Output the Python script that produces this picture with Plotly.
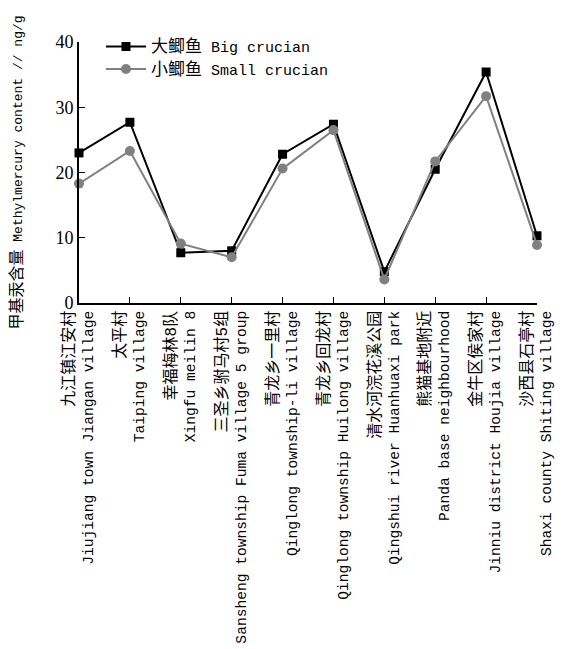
import plotly.graph_objects as go

sites_cn = ["九江镇江安村", "太平村", "幸福梅林8队", "三圣乡驸马村5组", "青龙乡一里村",
            "青龙乡回龙村", "清水河浣花溪公园", "熊猫基地附近", "金牛区侯家村", "沙西县石亭村"]
sites_en = ["Jiujiang town Jiangan village", "Taiping village", "Xingfu meilin 8",
            "Sansheng township Fuma village 5 group", "Qinglong township-li village",
            "Qinglong township Huilong village", "Qingshui river Huanhuaxi park",
            "Panda base neighbourhood", "Jinniu district Houjia village",
            "Shaxi county Shiting village"]
big_crucian = [23.0, 27.7, 7.7, 8.0, 22.8, 27.4, 4.8, 20.5, 35.4, 10.3]
small_crucian = [18.3, 23.3, 9.1, 7.0, 20.6, 26.5, 3.6, 21.7, 31.7, 8.9]
y_ticks = [0, 10, 20, 30, 40]

MONO = "Liberation Mono, Noto Sans CJK SC"

def cn(s, size=15):
    return f"<span style='font-size:{size}px;fill:#000000'>{s}</span>"

x = list(range(len(sites_cn)))
ticktext = [f"{cn(c, 16)}<br>{e}" for c, e in zip(sites_cn, sites_en)]

fig = go.Figure()
fig.add_trace(go.Scatter(
    x=x, y=big_crucian, mode="lines+markers",
    name=cn("大鲫鱼", 17) + " Big crucian",
    line=dict(color="#000000", width=2),
    marker=dict(symbol="square", size=9, color="#000000"),
    cliponaxis=False,
))
fig.add_trace(go.Scatter(
    x=x, y=small_crucian, mode="lines+markers",
    name=cn("小鲫鱼", 17) + " Small crucian",
    line=dict(color="#808080", width=2),
    marker=dict(symbol="circle", size=10, color="#808080"),
    cliponaxis=False,
))

fig.update_layout(
    width=560, height=641,
    margin=dict(l=71, r=31, t=34, b=346),
    paper_bgcolor="white", plot_bgcolor="white",
    font=dict(family=MONO, size=14, color="black"),
    showlegend=True,
    legend=dict(x=0.048, y=1.045, xanchor="left", yanchor="top",
                bgcolor="rgba(0,0,0,0)", font=dict(family=MONO, size=15, color="black"),
                tracegroupgap=0, itemwidth=40),
    xaxis=dict(
        range=[0, 9], tickmode="array", tickvals=x, ticktext=ticktext,
        tickangle=-90, ticks="inside", ticklen=6, tickcolor="black",
        showline=True, linecolor="black", linewidth=2, showgrid=False,
        zeroline=False, tickfont=dict(family=MONO, size=14.6, color="black"),
        automargin=False,
    ),
    yaxis=dict(
        range=[0, 40], tickmode="array", tickvals=y_ticks,
        ticks="inside", ticklen=6, tickcolor="black",
        showline=True, linecolor="black", linewidth=2, showgrid=False,
        zeroline=False, tickfont=dict(family="Liberation Serif", size=18, color="black"),
        title=dict(text=cn("甲基汞含量", 16) + " Methylmercury content // ng/g",
                   font=dict(family=MONO, size=13, color="black"), standoff=34),
        automargin=False,
    ),
)

fig.write_html("out.html")
